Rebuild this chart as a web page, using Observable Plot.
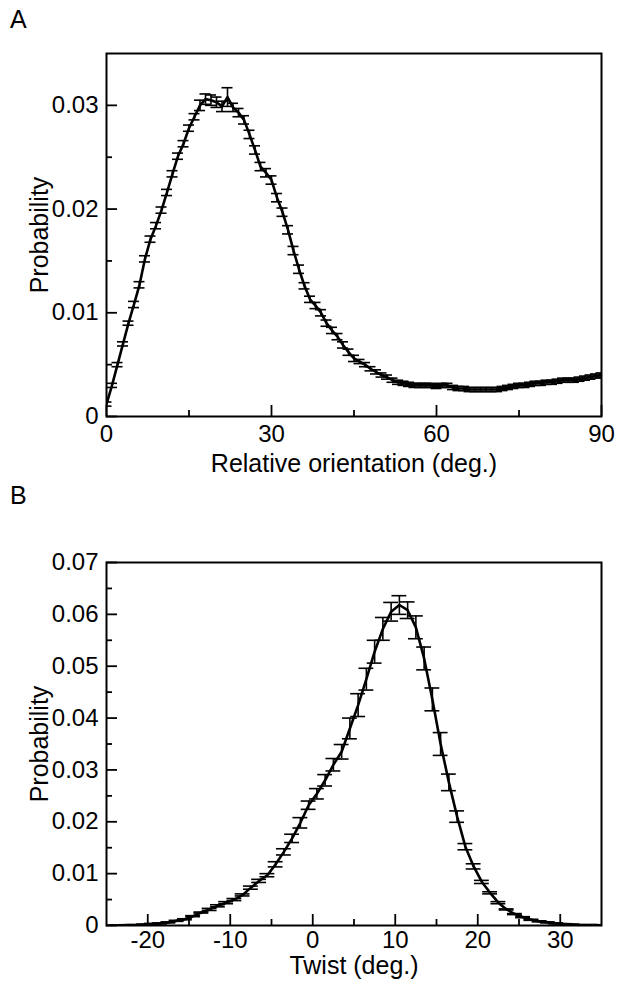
<!DOCTYPE html>
<html><head><meta charset="utf-8">
<script src="https://cdn.jsdelivr.net/npm/d3@7"></script>
<script src="https://cdn.jsdelivr.net/npm/@observablehq/plot@0.6"></script>
<style>
body{margin:0;background:#fff;}
#wrap{position:relative;width:624px;height:981px;font-family:"Liberation Sans",Arial,Helvetica,sans-serif;}
.letter{position:absolute;font-size:25px;color:#000;line-height:1;}
.pane{position:absolute;left:0;}
</style></head><body>
<div id="wrap">
  <div class="letter" style="left:10px;top:7px">A</div>
  <div id="a" class="pane" style="top:0"></div>
  <div class="letter" style="left:10px;top:483px">B</div>
  <div id="b" class="pane" style="top:480px"></div>
</div>
<script>
// ---------- Panel A: relative orientation ----------
const orientDeg = [0,1,2,3,4,5,6,7,8,9,10,11,12,13,14,15,16,17,18,19,20,21,22,23,24,25,26,27,28,29,30,31,32,33,34,35,36,37,38,39,40,41,42,43,44,45,46,47,48,49,50,51,52,53,54,55,56,57,58,59,60,61,62,63,64,65,66,67,68,69,70,71,72,73,74,75,76,77,78,79,80,81,82,83,84,85,86,87,88,89,90];
const orientProb = [
 0.0012,0.0030,0.0050,0.0070,0.0090,0.0108,0.0127,0.0152,0.0171,0.0184,
 0.0199,0.0216,0.0234,0.0251,0.0263,0.0278,0.0289,0.0300,0.0306,0.0305,
 0.0303,0.0299,0.0308,0.0298,0.0293,0.0286,0.0272,0.0257,0.0241,0.0235,
 0.0228,0.0211,0.0197,0.0180,0.0160,0.0142,0.0126,0.0113,0.0107,0.0100,
 0.0090,0.0083,0.0077,0.0069,0.0062,0.0056,0.0053,0.0050,0.0046,0.0043,
 0.0040,0.0038,0.0035,0.0033,0.0032,0.0031,0.0030,0.0030,0.0030,0.0030,
 0.0029,0.0030,0.0030,0.0028,0.0027,0.0027,0.0026,0.0026,0.0026,0.0026,
 0.0026,0.0026,0.0027,0.0028,0.0029,0.0030,0.0030,0.0031,0.0032,0.0032,
 0.0033,0.0033,0.0034,0.0035,0.0035,0.0035,0.0036,0.0037,0.0038,0.0039,
 0.0040];
const orientErr = [
 0.0002,0.0002,0.0002,0.0002,0.0002,0.0003,0.0003,0.0003,0.0003,0.0003,
 0.0003,0.0003,0.0003,0.0003,0.0003,0.0003,0.0003,0.0005,0.0005,0.0005,
 0.0005,0.0005,0.0009,0.0004,0.0004,0.0004,0.0004,0.0004,0.0004,0.0004,
 0.0004,0.0004,0.0004,0.0004,0.0004,0.0004,0.0003,0.0003,0.0003,0.0003,
 0.0003,0.0003,0.0003,0.0003,0.0003,0.0003,0.0002,0.0002,0.0002,0.0002,
 0.0002,0.0002,0.0002,0.0002,0.0002,0.0002,0.0002,0.0002,0.0002,0.0002,
 0.0002,0.0002,0.0002,0.0002,0.0002,0.0002,0.0002,0.0002,0.0002,0.0002,
 0.0002,0.0002,0.0002,0.0002,0.0002,0.0002,0.0002,0.0002,0.0002,0.0002,
 0.0002,0.0002,0.0002,0.0002,0.0002,0.0002,0.0002,0.0002,0.0002,0.0002,
 0.0002];
const orientXMajor = [0, 30, 60, 90];
const orientXMinor = [15, 45, 75];
const orientYMajor = [0, 0.01, 0.02, 0.03];
const orientYMinor = [0.005, 0.015, 0.025];

// ---------- Panel B: twist ----------
const twistDeg = [-24.5,-23.5,-22.5,-21.5,-20.5,-19.5,-18.5,-17.5,-16.5,-15.5,
 -14.5,-13.5,-12.5,-11.5,-10.5,-9.5,-8.5,-7.5,-6.5,-5.5,
 -4.5,-3.5,-2.5,-1.5,-0.5,0.5,1.5,2.5,3.5,4.5,
 5.5,6.5,7.5,8.5,9.5,10.5,11.5,12.5,13.5,14.5,
 15.5,16.5,17.5,18.5,19.5,20.5,21.5,22.5,23.5,24.5,
 25.5,26.5,27.5,28.5,29.5,30.5,31.5,32.5,33.5,34.5];
const twistProb = [
 0.0000,0.0000,0.0001,0.0001,0.0002,0.0003,0.0004,0.0006,0.0009,0.0012,
 0.0018,0.0025,0.0031,0.0038,0.0044,0.0050,0.0059,0.0073,0.0086,0.0097,
 0.0118,0.0142,0.0168,0.0198,0.0232,0.0254,0.0280,0.0310,0.0335,0.0380,
 0.0425,0.0475,0.0528,0.0572,0.0605,0.0618,0.0608,0.0575,0.0515,0.0436,
 0.0350,0.0276,0.0210,0.0152,0.0114,0.0084,0.0063,0.0044,0.0031,0.0022,
 0.0016,0.0011,0.0008,0.0006,0.0004,0.0003,0.0002,0.0001,0.0001,0.0001];
const twistErr = [
 0.00005,0.00005,0.00005,0.00005,0.00005,0.0001,0.0001,0.0001,0.0001,0.0001,
 0.0001,0.0001,0.0002,0.0002,0.0002,0.0002,0.0002,0.0003,0.0003,0.0003,
 0.0005,0.0006,0.0008,0.0010,0.0008,0.0010,0.0011,0.0012,0.0014,0.0020,
 0.0022,0.0021,0.0022,0.0022,0.0018,0.0018,0.0016,0.0022,0.0022,0.0022,
 0.0022,0.0016,0.0011,0.0006,0.0005,0.0003,0.0002,0.0002,0.0001,0.0001,
 0.0001,0.0001,0.0001,0.0001,0.0001,0.00005,0.00005,0.00005,0.00005,0.00005];
const twistXMajor = [-20, -10, 0, 10, 20, 30];
const twistXMinor = [-15, -5, 5, 15, 25];
const twistYMajor = [0, 0.01, 0.02, 0.03, 0.04, 0.05, 0.06, 0.07];
const twistYMinor = [0.005, 0.015, 0.025, 0.035, 0.045, 0.055, 0.065];

const FONT = '"Liberation Sans", Arial, Helvetica, sans-serif';
const fmt = d => String(d);

function panel({xs, ps, es, xDomain, yDomain, xMajor, xMinor, yMajor, yMinor, capHalf,
                height, marginTop, marginBottom, xLabel, xLabelDy, xPad}) {
  const data = xs.map((x, i) => ({x, p: ps[i], e: es[i]}));
  return Plot.plot({
    width: 624, height,
    marginLeft: 106, marginRight: 23, marginTop, marginBottom,
    style: {fontFamily: FONT, fontSize: "24px", color: "#000", background: "transparent", overflow: "visible"},
    x: {domain: xDomain},
    y: {domain: yDomain},
    marks: [
      Plot.ruleX(data, {x: "x", y1: d => d.p - d.e, y2: d => d.p + d.e, stroke: "#000", strokeWidth: 1.6, clip: true}),
      Plot.ruleY(data, {y: d => d.p + d.e, x1: d => d.x - capHalf, x2: d => d.x + capHalf, stroke: "#000", strokeWidth: 1.6, clip: true}),
      Plot.ruleY(data, {y: d => d.p - d.e, x1: d => d.x - capHalf, x2: d => d.x + capHalf, stroke: "#000", strokeWidth: 1.6, clip: true}),
      Plot.line(data, {x: "x", y: "p", stroke: "#000", strokeWidth: 2.6, clip: true}),
      Plot.axisX({ticks: xMajor, tickSize: -11, tickFormat: () => "", label: null, strokeWidth: 1.8}),
      Plot.axisX({ticks: xMinor, tickSize: -6, tickFormat: () => "", label: null, strokeWidth: 1.8}),
      Plot.axisY({ticks: yMajor, tickSize: -11, tickFormat: () => "", label: null, strokeWidth: 1.8}),
      Plot.axisY({ticks: yMinor, tickSize: -6, tickFormat: () => "", label: null, strokeWidth: 1.8}),
      Plot.axisX({ticks: xMajor, tickSize: 0, tickPadding: xPad, tickFormat: fmt, label: null, fontSize: 24}),
      Plot.axisY({ticks: yMajor, tickSize: 0, tickPadding: 8, tickFormat: fmt, label: null, fontSize: 24}),
      Plot.frame({stroke: "#000", strokeWidth: 2}),
      Plot.text([xLabel], {text: d => d, frameAnchor: "bottom", lineAnchor: "middle", textAnchor: "middle", dy: xLabelDy, fontSize: 25, fill: "#000"}),
      Plot.text(["Probability"], {text: d => d, frameAnchor: "left", lineAnchor: "middle", textAnchor: "middle", rotate: -90, dx: -67, fontSize: 25, fill: "#000"})
    ]
  });
}

document.getElementById("a").append(panel({
  xs: orientDeg, ps: orientProb, es: orientErr,
  xDomain: [0, 90], yDomain: [0, 0.035],
  xMajor: orientXMajor, xMinor: orientXMinor, yMajor: orientYMajor, yMinor: orientYMinor,
  capHalf: 1.0, height: 480, marginTop: 53, marginBottom: 64,
  xLabel: "Relative orientation (deg.)", xLabelDy: 47, xPad: 8
}));

document.getElementById("b").append(panel({
  xs: twistDeg, ps: twistProb, es: twistErr,
  xDomain: [-25, 35], yDomain: [0, 0.07],
  xMajor: twistXMajor, xMinor: twistXMinor, yMajor: twistYMajor, yMinor: twistYMinor,
  capHalf: 0.9, height: 501, marginTop: 82, marginBottom: 56,
  xLabel: "Twist (deg.)", xLabelDy: 40, xPad: 5
}));
</script>
</body></html>
